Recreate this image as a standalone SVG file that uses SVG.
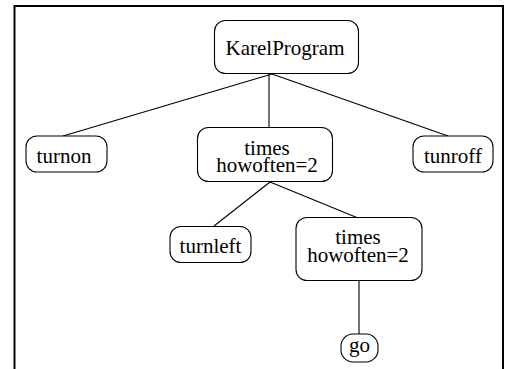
<svg xmlns="http://www.w3.org/2000/svg" width="506" height="369" viewBox="0 0 506 369">
<style>
.box{fill:#fff;stroke:#000;stroke-width:1.1}
.t{font-family:"Liberation Serif","Times New Roman",serif;font-size:21px;fill:#000;text-anchor:middle}
.edge{stroke:#000;stroke-width:1.1;fill:none}
</style>
<rect width="506" height="369" fill="#fff"/>
<path d="M14.5,369 V6 H503 V369" fill="none" stroke="#000" stroke-width="2"/>
<g id="edges">
<line class="edge" x1="272" y1="74" x2="63" y2="136"/>
<line class="edge" x1="269" y1="74" x2="269" y2="128"/>
<line class="edge" x1="272" y1="74" x2="448" y2="136"/>
<line class="edge" x1="270" y1="182" x2="214" y2="226"/>
<line class="edge" x1="270" y1="182" x2="358" y2="218"/>
<line class="edge" x1="359" y1="280" x2="359" y2="334"/>
</g>
<g id="KarelProgram">
<rect class="box" x="214.5" y="20.5" width="144" height="53" rx="11"/>
<text class="t" x="285" y="55">KarelProgram</text>
</g>
<g id="turnon">
<rect class="box" x="26" y="136" width="81" height="36" rx="11"/>
<text class="t" x="64" y="163">turnon</text>
</g>
<g id="times1">
<rect class="box" x="197.5" y="127.5" width="135" height="54" rx="11"/>
<text class="t" x="267" y="155">times</text>
<text class="t" x="267" y="172">howoften=2</text>
</g>
<g id="tunroff">
<rect class="box" x="413" y="136" width="80" height="36" rx="11"/>
<text class="t" x="453" y="163">tunroff</text>
</g>
<g id="turnleft">
<rect class="box" x="170" y="226.5" width="81" height="36" rx="11"/>
<text class="t" x="210.5" y="253">turnleft</text>
</g>
<g id="times2">
<rect class="box" x="296" y="217.5" width="126" height="63" rx="11"/>
<text class="t" x="358" y="244">times</text>
<text class="t" x="358" y="262">howoften=2</text>
</g>
<g id="go">
<rect class="box" x="341" y="334" width="37" height="28" rx="12"/>
<text class="t" x="359.5" y="352">go</text>
</g>
</svg>
